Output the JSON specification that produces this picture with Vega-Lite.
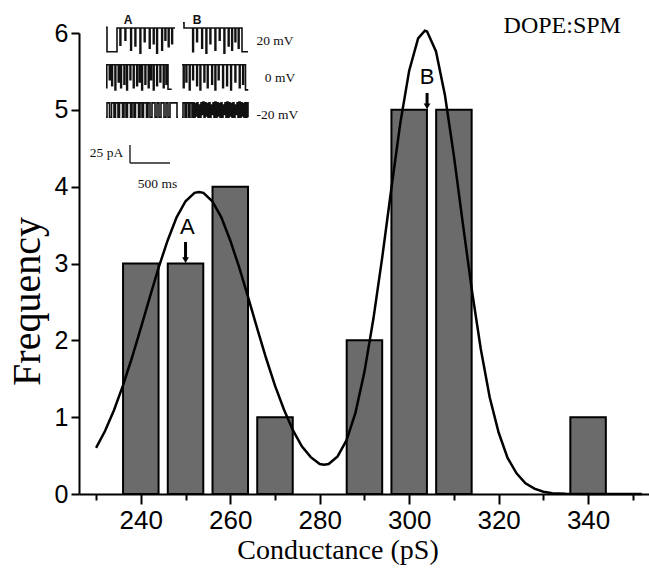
{
  "$schema": "https://vega.github.io/schema/vega-lite/v6.json",
  "width": 570,
  "height": 461,
  "autosize": {"type": "none"},
  "padding": {"left": 79, "top": 33, "right": 0, "bottom": 75},
  "background": "white",
  "config": {"view": {"stroke": null}},
  "datasets": {
    "bars": [
      {"g": 240, "n": 3}, {"g": 250, "n": 3}, {"g": 260, "n": 4}, {"g": 270, "n": 1},
      {"g": 290, "n": 2}, {"g": 300, "n": 5}, {"g": 310, "n": 5}, {"g": 340, "n": 1}
    ],
    "fit": [
      {"g": 230, "f": 0.60}, {"g": 232, "f": 0.82}, {"g": 234, "f": 1.09}, {"g": 236, "f": 1.41},
      {"g": 238, "f": 1.77}, {"g": 240, "f": 2.16}, {"g": 242, "f": 2.56}, {"g": 244, "f": 2.95},
      {"g": 246, "f": 3.30}, {"g": 248, "f": 3.60}, {"g": 250, "f": 3.81}, {"g": 252, "f": 3.92},
      {"g": 253, "f": 3.93}, {"g": 254, "f": 3.92}, {"g": 256, "f": 3.81}, {"g": 258, "f": 3.60},
      {"g": 260, "f": 3.30}, {"g": 262, "f": 2.95}, {"g": 264, "f": 2.56}, {"g": 266, "f": 2.16},
      {"g": 268, "f": 1.77}, {"g": 270, "f": 1.41}, {"g": 272, "f": 1.10}, {"g": 274, "f": 0.83},
      {"g": 276, "f": 0.62}, {"g": 278, "f": 0.48}, {"g": 280, "f": 0.39}, {"g": 281, "f": 0.38},
      {"g": 282, "f": 0.39}, {"g": 284, "f": 0.49}, {"g": 286, "f": 0.70}, {"g": 288, "f": 1.06},
      {"g": 290, "f": 1.59}, {"g": 292, "f": 2.28}, {"g": 294, "f": 3.09}, {"g": 296, "f": 3.97},
      {"g": 298, "f": 4.82}, {"g": 300, "f": 5.51}, {"g": 302, "f": 5.93}, {"g": 303.5, "f": 6.03},
      {"g": 304, "f": 6.02}, {"g": 306, "f": 5.76}, {"g": 308, "f": 5.19}, {"g": 310, "f": 4.40},
      {"g": 312, "f": 3.52}, {"g": 314, "f": 2.66}, {"g": 316, "f": 1.89}, {"g": 318, "f": 1.26},
      {"g": 320, "f": 0.80}, {"g": 322, "f": 0.47}, {"g": 324, "f": 0.27}, {"g": 326, "f": 0.14},
      {"g": 328, "f": 0.07}, {"g": 330, "f": 0.03}, {"g": 332, "f": 0.01}, {"g": 335, "f": 0.003},
      {"g": 340, "f": 0}, {"g": 346, "f": 0}, {"g": 352, "f": 0}
    ],
    "arrows": [
      {"g": 250, "from": 3.28, "to": 3.06, "head": 3.045},
      {"g": 304, "from": 5.22, "to": 5.06, "head": 5.045}
    ],
    "peaks": [
      {"g": 250.4, "n": 3.475, "text": "A"},
      {"g": 304, "n": 5.43, "text": "B"}
    ],
    "caption": [
      {"g": 321.1, "n": 6.0, "text": "DOPE:SPM"}
    ],
    "traces": [
      {"trace": "A20", "t": 337.5, "i": 48}, {"trace": "A20", "t": 350, "i": 14}, {"trace": "A20", "t": 475, "i": 47},
      {"trace": "A20", "t": 512.5, "i": 23}, {"trace": "A20", "t": 522.5, "i": 47},
      {"trace": "A20", "t": 575, "i": 30}, {"trace": "A20", "t": 585, "i": 47},
      {"trace": "A20", "t": 646, "i": 16}, {"trace": "A20", "t": 656, "i": 47},
      {"trace": "A20", "t": 700, "i": 22}, {"trace": "A20", "t": 710, "i": 47},
      {"trace": "A20", "t": 762.5, "i": 12}, {"trace": "A20", "t": 772.5, "i": 47},
      {"trace": "A20", "t": 816, "i": 28}, {"trace": "A20", "t": 826, "i": 47},
      {"trace": "A20", "t": 879, "i": 19}, {"trace": "A20", "t": 889, "i": 47},
      {"trace": "A20", "t": 929, "i": 25}, {"trace": "A20", "t": 939, "i": 47},
      {"trace": "A20", "t": 971, "i": 12}, {"trace": "A20", "t": 981, "i": 47},
      {"trace": "A20", "t": 1034, "i": 16}, {"trace": "A20", "t": 1044, "i": 47},
      {"trace": "A20", "t": 1075, "i": 30}, {"trace": "A20", "t": 1085, "i": 47},
      {"trace": "A20", "t": 1116, "i": 21}, {"trace": "A20", "t": 1126, "i": 47},
      {"trace": "A20", "t": 1159, "i": 25}, {"trace": "A20", "t": 1169, "i": 47},
      {"trace": "A20", "t": 1200, "i": 47},

      {"trace": "B20", "t": 1300, "i": 54}, {"trace": "B20", "t": 1312.5, "i": 47},
      {"trace": "B20", "t": 1421, "i": 14}, {"trace": "B20", "t": 1431, "i": 47},
      {"trace": "B20", "t": 1471, "i": 28}, {"trace": "B20", "t": 1481, "i": 47},
      {"trace": "B20", "t": 1534, "i": 19}, {"trace": "B20", "t": 1544, "i": 47},
      {"trace": "B20", "t": 1587.5, "i": 12}, {"trace": "B20", "t": 1597.5, "i": 47},
      {"trace": "B20", "t": 1637.5, "i": 25}, {"trace": "B20", "t": 1647.5, "i": 47},
      {"trace": "B20", "t": 1700, "i": 16}, {"trace": "B20", "t": 1710, "i": 47},
      {"trace": "B20", "t": 1754, "i": 30}, {"trace": "B20", "t": 1764, "i": 47},
      {"trace": "B20", "t": 1812.5, "i": 12}, {"trace": "B20", "t": 1822.5, "i": 47},
      {"trace": "B20", "t": 1866, "i": 22}, {"trace": "B20", "t": 1876, "i": 47},
      {"trace": "B20", "t": 1909, "i": 16}, {"trace": "B20", "t": 1919, "i": 47},
      {"trace": "B20", "t": 1950, "i": 28}, {"trace": "B20", "t": 1960, "i": 47},
      {"trace": "B20", "t": 1991, "i": 19}, {"trace": "B20", "t": 2001, "i": 47},
      {"trace": "B20", "t": 2037.5, "i": 14}, {"trace": "B20", "t": 2112.5, "i": 14},

      {"trace": "A0", "t": 337.5, "i": -36}, {"trace": "A0", "t": 347.5, "i": -4},
      {"trace": "A0", "t": 379, "i": -25}, {"trace": "A0", "t": 389, "i": -4},
      {"trace": "A0", "t": 409, "i": -33}, {"trace": "A0", "t": 419, "i": -4},
      {"trace": "A0", "t": 450, "i": -39}, {"trace": "A0", "t": 460, "i": -4},
      {"trace": "A0", "t": 491, "i": -28}, {"trace": "A0", "t": 501, "i": -4},
      {"trace": "A0", "t": 521, "i": -36}, {"trace": "A0", "t": 531, "i": -4},
      {"trace": "A0", "t": 562.5, "i": -31}, {"trace": "A0", "t": 572.5, "i": -4},
      {"trace": "A0", "t": 596, "i": -39}, {"trace": "A0", "t": 606, "i": -4},
      {"trace": "A0", "t": 637.5, "i": -25}, {"trace": "A0", "t": 647.5, "i": -4},
      {"trace": "A0", "t": 679, "i": -36}, {"trace": "A0", "t": 689, "i": -4},
      {"trace": "A0", "t": 721, "i": -33}, {"trace": "A0", "t": 731, "i": -4},
      {"trace": "A0", "t": 754, "i": -28}, {"trace": "A0", "t": 764, "i": -4},
      {"trace": "A0", "t": 784, "i": -39}, {"trace": "A0", "t": 794, "i": -4},
      {"trace": "A0", "t": 825, "i": -31}, {"trace": "A0", "t": 835, "i": -4},
      {"trace": "A0", "t": 866, "i": -36}, {"trace": "A0", "t": 876, "i": -4},
      {"trace": "A0", "t": 896, "i": -25}, {"trace": "A0", "t": 906, "i": -4},
      {"trace": "A0", "t": 929, "i": -39}, {"trace": "A0", "t": 939, "i": -4},
      {"trace": "A0", "t": 971, "i": -33}, {"trace": "A0", "t": 981, "i": -4},
      {"trace": "A0", "t": 1012.5, "i": -28}, {"trace": "A0", "t": 1022.5, "i": -4},
      {"trace": "A0", "t": 1054, "i": -36}, {"trace": "A0", "t": 1064, "i": -4},
      {"trace": "A0", "t": 1087.5, "i": -31}, {"trace": "A0", "t": 1097.5, "i": -4},
      {"trace": "A0", "t": 1112.5, "i": -38}, {"trace": "A0", "t": 1159, "i": -38},

      {"trace": "B0", "t": 1287.5, "i": -4},
      {"trace": "B0", "t": 1304, "i": -36}, {"trace": "B0", "t": 1314, "i": -4},
      {"trace": "B0", "t": 1337.5, "i": -28}, {"trace": "B0", "t": 1347.5, "i": -4},
      {"trace": "B0", "t": 1379, "i": -39}, {"trace": "B0", "t": 1389, "i": -4},
      {"trace": "B0", "t": 1421, "i": -25}, {"trace": "B0", "t": 1431, "i": -4},
      {"trace": "B0", "t": 1471, "i": -33}, {"trace": "B0", "t": 1481, "i": -4},
      {"trace": "B0", "t": 1512.5, "i": -39}, {"trace": "B0", "t": 1522.5, "i": -4},
      {"trace": "B0", "t": 1562.5, "i": -28}, {"trace": "B0", "t": 1572.5, "i": -4},
      {"trace": "B0", "t": 1604, "i": -36}, {"trace": "B0", "t": 1614, "i": -4},
      {"trace": "B0", "t": 1659, "i": -31}, {"trace": "B0", "t": 1669, "i": -4},
      {"trace": "B0", "t": 1700, "i": -39}, {"trace": "B0", "t": 1710, "i": -4},
      {"trace": "B0", "t": 1741, "i": -25}, {"trace": "B0", "t": 1751, "i": -4},
      {"trace": "B0", "t": 1796, "i": -36}, {"trace": "B0", "t": 1806, "i": -4},
      {"trace": "B0", "t": 1846, "i": -33}, {"trace": "B0", "t": 1856, "i": -4},
      {"trace": "B0", "t": 1896, "i": -39}, {"trace": "B0", "t": 1906, "i": -4},
      {"trace": "B0", "t": 1950, "i": -28}, {"trace": "B0", "t": 1960, "i": -4},
      {"trace": "B0", "t": 2004, "i": -36}, {"trace": "B0", "t": 2014, "i": -4},
      {"trace": "B0", "t": 2046, "i": -31}, {"trace": "B0", "t": 2056, "i": -4},
      {"trace": "B0", "t": 2081, "i": -39}, {"trace": "B0", "t": 2106, "i": -40},

      {"trace": "Am20", "t": 337.5, "i": -77},
      {"trace": "Am20", "t": 350, "i": -57}, {"trace": "Am20", "t": 381, "i": -77},
      {"trace": "Am20", "t": 406, "i": -57}, {"trace": "Am20", "t": 437.5, "i": -77},
      {"trace": "Am20", "t": 456, "i": -57}, {"trace": "Am20", "t": 487.5, "i": -77},
      {"trace": "Am20", "t": 506, "i": -57}, {"trace": "Am20", "t": 544, "i": -77},
      {"trace": "Am20", "t": 562.5, "i": -57}, {"trace": "Am20", "t": 587.5, "i": -77},
      {"trace": "Am20", "t": 606, "i": -57}, {"trace": "Am20", "t": 644, "i": -77},
      {"trace": "Am20", "t": 662.5, "i": -57}, {"trace": "Am20", "t": 687.5, "i": -77},
      {"trace": "Am20", "t": 706, "i": -57}, {"trace": "Am20", "t": 744, "i": -77},
      {"trace": "Am20", "t": 762.5, "i": -57}, {"trace": "Am20", "t": 787.5, "i": -77},
      {"trace": "Am20", "t": 806, "i": -57}, {"trace": "Am20", "t": 844, "i": -77},
      {"trace": "Am20", "t": 862.5, "i": -57}, {"trace": "Am20", "t": 887.5, "i": -77},
      {"trace": "Am20", "t": 912.5, "i": -57}, {"trace": "Am20", "t": 950, "i": -77},
      {"trace": "Am20", "t": 975, "i": -57}, {"trace": "Am20", "t": 1000, "i": -77},
      {"trace": "Am20", "t": 1025, "i": -57}, {"trace": "Am20", "t": 1062.5, "i": -77},
      {"trace": "Am20", "t": 1087.5, "i": -57}, {"trace": "Am20", "t": 1112.5, "i": -77},
      {"trace": "Am20", "t": 1137.5, "i": -57}, {"trace": "Am20", "t": 1225, "i": -77},
      {"trace": "Am20", "t": 1237.5, "i": -77},

      {"trace": "Bm20", "t": 1287.5, "i": -77},
      {"trace": "Bm20", "t": 1300, "i": -57}, {"trace": "Bm20", "t": 1325, "i": -77},
      {"trace": "Bm20", "t": 1343.75, "i": -57}, {"trace": "Bm20", "t": 1368.75, "i": -77},
      {"trace": "Bm20", "t": 1387.5, "i": -57}, {"trace": "Bm20", "t": 1412.5, "i": -77},
      {"trace": "Bm20", "t": 1425, "i": -57}, {"trace": "Bm20", "t": 1437.5, "i": -77},
      {"trace": "Bm20", "t": 1450, "i": -58}, {"trace": "Bm20", "t": 1462.5, "i": -75},
      {"trace": "Bm20", "t": 1475, "i": -57}, {"trace": "Bm20", "t": 1487.5, "i": -77},
      {"trace": "Bm20", "t": 1500, "i": -60}, {"trace": "Bm20", "t": 1512.5, "i": -77},
      {"trace": "Bm20", "t": 1525, "i": -57}, {"trace": "Bm20", "t": 1537.5, "i": -73},
      {"trace": "Bm20", "t": 1550, "i": -56}, {"trace": "Bm20", "t": 1562.5, "i": -77},
      {"trace": "Bm20", "t": 1575, "i": -57}, {"trace": "Bm20", "t": 1587.5, "i": -75},
      {"trace": "Bm20", "t": 1600, "i": -58}, {"trace": "Bm20", "t": 1612.5, "i": -77},
      {"trace": "Bm20", "t": 1625, "i": -57}, {"trace": "Bm20", "t": 1637.5, "i": -77},
      {"trace": "Bm20", "t": 1650, "i": -60}, {"trace": "Bm20", "t": 1662.5, "i": -73},
      {"trace": "Bm20", "t": 1675, "i": -57}, {"trace": "Bm20", "t": 1687.5, "i": -77},
      {"trace": "Bm20", "t": 1700, "i": -56}, {"trace": "Bm20", "t": 1712.5, "i": -77},
      {"trace": "Bm20", "t": 1725, "i": -57}, {"trace": "Bm20", "t": 1737.5, "i": -75},
      {"trace": "Bm20", "t": 1750, "i": -58}, {"trace": "Bm20", "t": 1762.5, "i": -77},
      {"trace": "Bm20", "t": 1775, "i": -57}, {"trace": "Bm20", "t": 1787.5, "i": -77},
      {"trace": "Bm20", "t": 1800, "i": -60}, {"trace": "Bm20", "t": 1812.5, "i": -73},
      {"trace": "Bm20", "t": 1825, "i": -57}, {"trace": "Bm20", "t": 1837.5, "i": -77},
      {"trace": "Bm20", "t": 1850, "i": -56}, {"trace": "Bm20", "t": 1862.5, "i": -77},
      {"trace": "Bm20", "t": 1875, "i": -57}, {"trace": "Bm20", "t": 1887.5, "i": -75},
      {"trace": "Bm20", "t": 1900, "i": -58}, {"trace": "Bm20", "t": 1912.5, "i": -77},
      {"trace": "Bm20", "t": 1925, "i": -57}, {"trace": "Bm20", "t": 1937.5, "i": -77},
      {"trace": "Bm20", "t": 1950, "i": -60}, {"trace": "Bm20", "t": 1962.5, "i": -73},
      {"trace": "Bm20", "t": 1975, "i": -57}, {"trace": "Bm20", "t": 1987.5, "i": -77},
      {"trace": "Bm20", "t": 2000, "i": -56}, {"trace": "Bm20", "t": 2012.5, "i": -77},
      {"trace": "Bm20", "t": 2025, "i": -57}, {"trace": "Bm20", "t": 2037.5, "i": -75},
      {"trace": "Bm20", "t": 2050, "i": -58}, {"trace": "Bm20", "t": 2062.5, "i": -77},
      {"trace": "Bm20", "t": 2075, "i": -57}, {"trace": "Bm20", "t": 2087.5, "i": -77},
      {"trace": "Bm20", "t": 2100, "i": -57}, {"trace": "Bm20", "t": 2112.5, "i": -77}
    ],
    "scalebar": [
      {"t": 637.5, "t2": 637.5, "i": -115.5, "i2": -140.5},
      {"t": 637.5, "t2": 1137.5, "i": -140.5, "i2": -140.5}
    ],
    "insetNotes": [
      {"t": 2450, "i": 23.3, "text": "20 mV"},
      {"t": 2512.5, "i": -28.0, "text": "0 mV"},
      {"t": 2479, "i": -79.7, "text": "-20 mV"},
      {"t": 343.75, "i": -132.2, "text": "25 pA"},
      {"t": 981, "i": -175.2, "text": "500 ms"}
    ],
    "traceTags": [
      {"t": 612.5, "i": 52.5, "text": "A"},
      {"t": 1475, "i": 52.5, "text": "B"}
    ]
  },
  "resolve": {"scale": {"x": "independent", "y": "independent"}},
  "layer": [
    {
      "layer": [
        {
          "data": {"name": "bars"},
          "mark": {"type": "bar", "size": 35.5, "fill": "#6b6b6b", "stroke": "#000000", "strokeWidth": 2},
          "encoding": {
            "x": {
              "field": "g", "type": "quantitative",
              "scale": {"domain": [227.3, 352.5], "nice": false, "zero": false},
              "axis": {
                "values": [230, 240, 250, 260, 270, 280, 290, 300, 310, 320, 330, 340, 350],
                "format": "d",
                "labelExpr": "datum.value % 20 === 0 ? datum.label : ''",
                "tickSize": {"condition": {"test": "datum.value % 20 === 0", "value": 10}, "value": 6},
                "tickWidth": 2, "tickColor": "#000000",
                "domainWidth": 2, "domainColor": "#000000",
                "grid": false, "labelOverlap": false, "labelFlush": false,
                "labelFont": "Liberation Sans", "labelFontSize": 26, "labelColor": "#000000", "labelPadding": 3,
                "title": "Conductance (pS)",
                "titleFont": "Liberation Serif", "titleFontSize": 28, "titleFontWeight": "normal", "titleColor": "#000000",
                "titleX": 258.5, "titleY": 64, "titleBaseline": "alphabetic", "titleAlign": "center"
              }
            },
            "y": {
              "field": "n", "type": "quantitative",
              "scale": {"domain": [0, 6], "nice": false},
              "axis": {
                "values": [0, 0.5, 1, 1.5, 2, 2.5, 3, 3.5, 4, 4.5, 5, 5.5, 6],
                "format": "d",
                "labelExpr": "datum.value % 1 === 0 ? datum.label : ''",
                "tickSize": {"condition": {"test": "datum.value % 1 === 0", "value": 8}, "value": 5},
                "tickWidth": 2, "tickColor": "#000000",
                "domainWidth": 2, "domainColor": "#000000",
                "grid": false, "labelOverlap": false, "labelFlush": false,
                "labelFont": "Liberation Sans", "labelFontSize": 25, "labelColor": "#000000", "labelPadding": 3,
                "title": "Frequency",
                "titleFont": "Liberation Serif", "titleFontSize": 40, "titleFontWeight": "normal", "titleColor": "#000000",
                "titleAngle": -90, "titleX": -52, "titleY": 268, "titleBaseline": "middle", "titleAlign": "center"
              }
            }
          }
        },
        {
          "data": {"name": "fit"},
          "mark": {"type": "line", "color": "#000000", "strokeWidth": 2.5, "clip": false},
          "encoding": {
            "x": {"field": "g", "type": "quantitative"},
            "y": {"field": "f", "type": "quantitative"}
          }
        },
        {
          "data": {"name": "arrows"},
          "mark": {"type": "rule", "color": "#000000", "strokeWidth": 3},
          "encoding": {
            "x": {"field": "g", "type": "quantitative"},
            "y": {"field": "from", "type": "quantitative"},
            "y2": {"field": "to"}
          }
        },
        {
          "data": {"name": "arrows"},
          "mark": {"type": "point", "shape": "triangle-down", "filled": true, "color": "#000000", "size": 45, "opacity": 1},
          "encoding": {
            "x": {"field": "g", "type": "quantitative"},
            "y": {"field": "head", "type": "quantitative"}
          }
        },
        {
          "data": {"name": "peaks"},
          "mark": {"type": "text", "font": "Liberation Sans", "fontSize": 22, "color": "#000000", "baseline": "middle", "align": "center"},
          "encoding": {
            "x": {"field": "g", "type": "quantitative"},
            "y": {"field": "n", "type": "quantitative"},
            "text": {"field": "text"}
          }
        },
        {
          "data": {"name": "caption"},
          "mark": {"type": "text", "font": "Liberation Serif", "fontSize": 24, "color": "#000000", "baseline": "alphabetic", "align": "left"},
          "encoding": {
            "x": {"field": "g", "type": "quantitative"},
            "y": {"field": "n", "type": "quantitative"},
            "text": {"field": "text"}
          }
        }
      ]
    },
    {
      "layer": [
        {
          "data": {"name": "traces"},
          "mark": {"type": "line", "interpolate": "step-after", "color": "#111111", "strokeWidth": 1.6, "clip": false},
          "encoding": {
            "x": {"field": "t", "type": "quantitative", "scale": {"domain": [0, 7125], "nice": false, "zero": false}, "axis": null},
            "y": {"field": "i", "type": "quantitative", "scale": {"domain": [-600, 40], "nice": false, "zero": false}, "axis": null},
            "detail": {"field": "trace"}
          }
        },
        {
          "data": {"name": "scalebar"},
          "mark": {"type": "rule", "color": "#222222", "strokeWidth": 1.4},
          "encoding": {
            "x": {"field": "t", "type": "quantitative"},
            "x2": {"field": "t2"},
            "y": {"field": "i", "type": "quantitative"},
            "y2": {"field": "i2"}
          }
        },
        {
          "data": {"name": "insetNotes"},
          "mark": {"type": "text", "font": "Liberation Serif", "fontSize": 13.5, "color": "#111111", "baseline": "alphabetic", "align": "center"},
          "encoding": {
            "x": {"field": "t", "type": "quantitative"},
            "y": {"field": "i", "type": "quantitative"},
            "text": {"field": "text"}
          }
        },
        {
          "data": {"name": "traceTags"},
          "mark": {"type": "text", "font": "Liberation Sans", "fontSize": 12, "fontWeight": "bold", "color": "#111111", "baseline": "alphabetic", "align": "center"},
          "encoding": {
            "x": {"field": "t", "type": "quantitative"},
            "y": {"field": "i", "type": "quantitative"},
            "text": {"field": "text"}
          }
        }
      ]
    }
  ]
}
